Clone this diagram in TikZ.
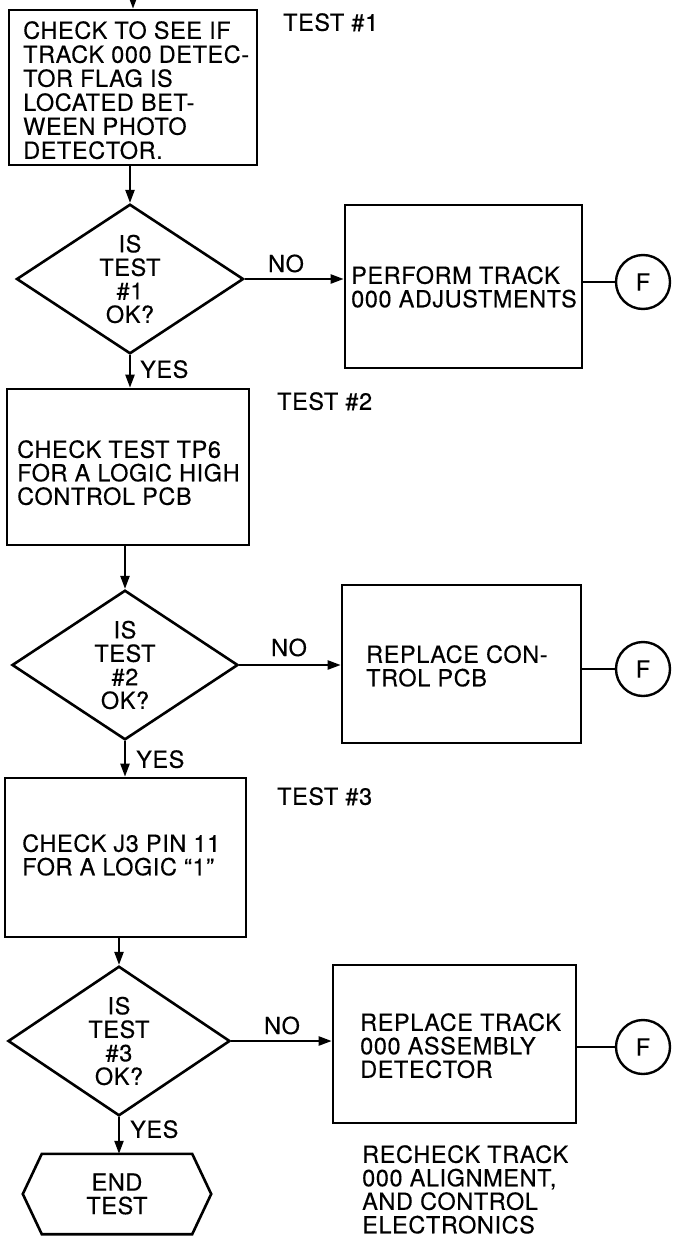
\documentclass[tikz,border=0pt]{standalone}
\usepackage{fontspec}
\setmainfont{TeX Gyre Heros}[LetterSpace=2.5,FakeBold=0.3]
\usetikzlibrary{shapes.geometric,arrows.meta}
\begin{document}
\begin{tikzpicture}[x=1pt,y=-1pt,
  every node/.style={inner sep=0pt},
  boxnode/.style={draw, line width=2.6pt, rectangle},
  dia/.style={draw, line width=2.6pt, diamond, align=center, font=\fontsize{23.5}{23.5}\selectfont},
  conn/.style={draw, line width=2.4pt, circle, minimum size=54pt, font=\fontsize{23.5}{23.5}\selectfont},
  arr/.style={line width=2.2pt, -{Triangle[length=13pt,width=9pt]}},
  ln/.style={line width=2.2pt},
  txt/.style={anchor=north west, align=left, font=\fontsize{23.5}{23.5}\selectfont},
  lbl/.style={anchor=north west, font=\fontsize{23.5}{23.5}\selectfont},
  nolbl/.style={anchor=base, font=\fontsize{23.5}{23.5}\selectfont}]
\useasboundingbox (0,0) rectangle (686,1247);

% ---- block 1
\coordinate (top) at (133,0);
\node[boxnode, minimum width=248pt, minimum height=155pt] (b1) at (133,87.5) {};
\node[txt, font=\fontsize{23.5}{24}\selectfont] (t1) at (23,21)
  {CHECK TO SEE IF\\TRACK 000 DETEC-\\TOR FLAG IS\\LOCATED BET-\\WEEN PHOTO\\DETECTOR.};
\node[lbl] (test1) at (283,13) {TEST \#1};

\node[dia, minimum width=227pt, minimum height=147pt] (d1) at (130,279) {IS\\TEST\\\#1\\OK?};
\node[boxnode, minimum width=237pt, minimum height=163pt] (b2) at (463.5,286.5) {};
\node[txt] (t2) at (351,266) {PERFORM TRACK\\000 ADJUSTMENTS};
\node[conn] (c1) at (643,282) {F};
\node[nolbl] (no1) at (286,272) {NO};
\node[lbl] (yes1) at (140,360) {YES};

% ---- block 2
\node[boxnode, minimum width=242pt, minimum height=156pt] (b3) at (128,467) {};
\node[txt] (t3) at (17,440) {CHECK TEST TP6\\FOR A LOGIC HIGH\\CONTROL PCB};
\node[lbl] (test2) at (277,392) {TEST \#2};

\node[dia, minimum width=226pt, minimum height=148pt] (d2) at (125,665) {IS\\TEST\\\#2\\OK?};
\node[boxnode, minimum width=239pt, minimum height=158pt] (b4) at (461.5,664) {};
\node[txt] (t4) at (366,645) {REPLACE CON-\\TROL PCB};
\node[conn] (c2) at (643,669) {F};
\node[nolbl] (no2) at (289,656) {NO};
\node[lbl] (yes2) at (136,750) {YES};

% ---- block 3
\node[boxnode, minimum width=241pt, minimum height=159pt] (b5) at (125.5,857.5) {};
\node[txt] (t5) at (22,834) {CHECK J3 PIN 11\\FOR A LOGIC ``1''};
\node[lbl] (test3) at (277,787) {TEST \#3};

\node[dia, minimum width=222pt, minimum height=148pt] (d3) at (119,1041) {IS\\TEST\\\#3\\OK?};
\node[boxnode, minimum width=243pt, minimum height=158pt] (b6) at (454.5,1044) {};
\node[txt] (t6) at (360,1013) {REPLACE TRACK\\000 ASSEMBLY\\DETECTOR};
\node[conn] (c3) at (643,1047) {F};
\node[nolbl] (no3) at (282,1034) {NO};
\node[lbl] (yes3) at (130,1120) {YES};
\node[txt] (recheck) at (362,1145)
  {RECHECK TRACK\\000 ALIGNMENT,\\AND CONTROL\\ELECTRONICS};

% ---- end
\node[minimum width=150pt, minimum height=80pt, align=center, font=\fontsize{23.5}{23.5}\selectfont] (e) at (117,1194) {END\\TEST};
\draw[line width=2.6pt, line join=miter] (e.north west) -- (e.north east) -- ([xshift=19pt]e.east)
  -- (e.south east) -- (e.south west) -- ([xshift=-19pt]e.west) -- cycle;

% ---- connectors
\draw[arr] (top) -- (b1.north);
\draw[arr] (b1.south -| d1.north) -- (d1.north);
\draw[arr] (d1.east) -- (d1.east -| b2.west);
\draw[ln] (b2.east |- c1.west) -- (c1.west);
\draw[arr] (d1.south) -- (d1.south |- b3.north);

\draw[arr] (b3.south -| d2.north) -- (d2.north);
\draw[arr] (d2.east) -- (d2.east -| b4.west);
\draw[ln] (b4.east |- c2.west) -- (c2.west);
\draw[arr] (d2.south) -- (d2.south |- b5.north);

\draw[arr] (b5.south -| d3.north) -- (d3.north);
\draw[arr] (d3.east) -- (d3.east -| b6.west);
\draw[ln] (b6.east |- c3.west) -- (c3.west);
\draw[arr] (d3.south) -- (d3.south |- e.north);
\end{tikzpicture}
\end{document}
